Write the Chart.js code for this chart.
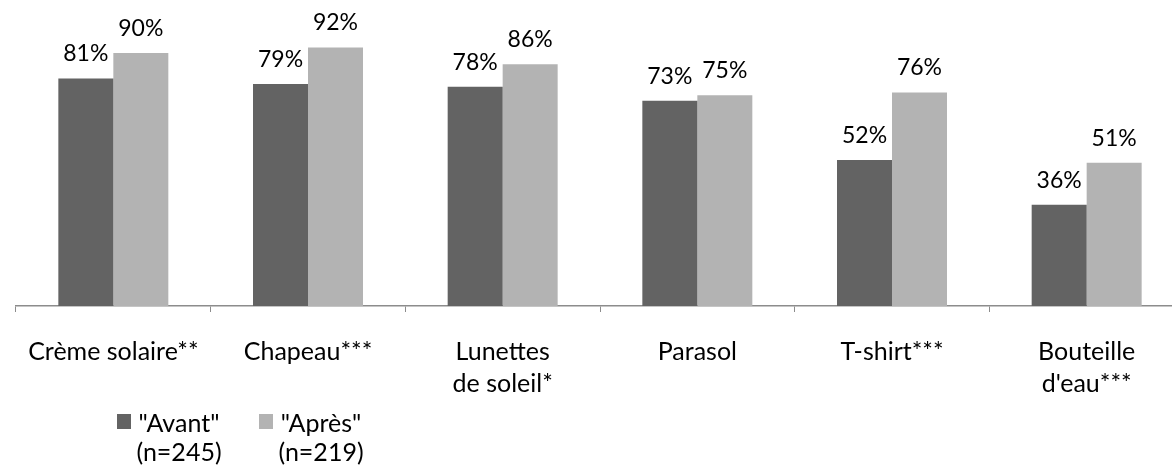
<!DOCTYPE html>
<html>
<head>
<meta charset="utf-8">
<style>
  html, body { margin: 0; padding: 0; overflow: hidden; background: #fff; }
  #caja { width: 1184px; height: 466px; position: relative; }
</style>
</head>
<body>
<div id="caja"><canvas id="Grafica"></canvas></div>
<script src="https://cdn.jsdelivr.net/npm/chart.js"></script>
<script>
// categories (multi-line ones as arrays)
const categorias = ['Crème solaire**', 'Chapeau***', ['Lunettes', 'de soleil*'], 'Parasol', 'T-shirt***', ['Bouteille', "d'eau***"]];
const avant = [81, 79, 78, 73, 52, 36];   // "Avant" (n=245)
const apres = [90, 92, 86, 75, 76, 51];   // "Après" (n=219)
const leyenda = [['"Avant"', '(n=245)'], ['"Après"', '(n=219)']];
const colores = ['#636363', '#b3b3b3'];

const fuente = 'Lato, "Open Sans", sans-serif';

// percentage labels above the bars
const etiquetasValor = {
  id: 'etiquetasValor',
  afterDatasetsDraw(chart) {
    const ctx = chart.ctx;
    ctx.save();
    ctx.font = '23px ' + fuente;
    ctx.fillStyle = '#000';
    ctx.textAlign = 'center';
    ctx.textBaseline = 'alphabetic';
    chart.data.datasets.forEach((ds, i) => {
      chart.getDatasetMeta(i).data.forEach((bar, j) => {
        ctx.fillText(ds.data[j] + '%', bar.x, bar.y - 17);
      });
    });
    ctx.restore();
  }
};

// legend below, two lines per entry
const leyendaAbajo = {
  id: 'leyendaAbajo',
  afterDraw(chart) {
    const ctx = chart.ctx;
    ctx.save();
    ctx.font = '25px ' + fuente;
    ctx.textAlign = 'center';
    ctx.textBaseline = 'alphabetic';
    leyenda.forEach((lineas, i) => {
      const x0 = 117 + i * 142;
      ctx.fillStyle = colores[i];
      ctx.fillRect(x0, 414, 14, 15);
      ctx.fillStyle = '#000';
      ctx.fillText(lineas[0], x0 + 62, 432);
      ctx.fillText(lineas[1], x0 + 62, 461);
    });
    ctx.restore();
  }
};

new Chart(document.getElementById('Grafica'), {
  type: 'bar',
  data: {
    labels: categorias,
    datasets: [
      { label: leyenda[0].join(' '), data: avant, backgroundColor: colores[0] },
      { label: leyenda[1].join(' '), data: apres, backgroundColor: colores[1] }
    ]
  },
  options: {
    responsive: true,
    maintainAspectRatio: false,
    animation: false,
    layout: { padding: { top: 25, left: 16, right: 0, bottom: 42 } },
    datasets: {
      bar: { barPercentage: 1, categoryPercentage: 0.565 }
    },
    plugins: {
      legend: { display: false },
      tooltip: { enabled: false }
    },
    scales: {
      y: { display: false, min: 0, max: 100 },
      x: {
        border: { color: '#8c8c8c', width: 1.5 },
        grid: { drawOnChartArea: false, color: '#8c8c8c', tickLength: 6, offset: true },
        ticks: {
          color: '#000',
          padding: 24,
          maxRotation: 0,
          autoSkip: false,
          font: { family: fuente, size: 25, lineHeight: '32px' }
        }
      }
    }
  },
  plugins: [etiquetasValor, leyendaAbajo]
});
</script>
</body>
</html>
